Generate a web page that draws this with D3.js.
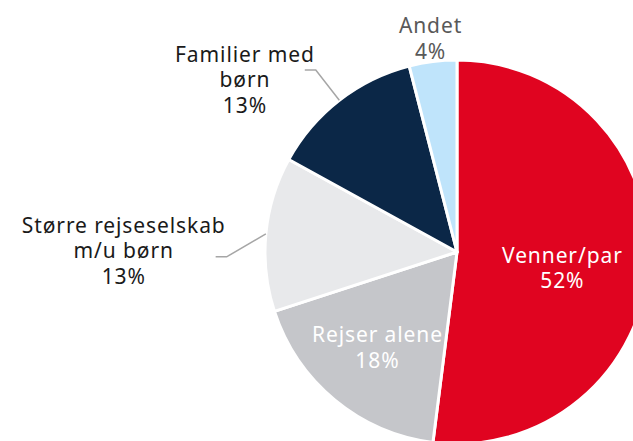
<!DOCTYPE html>
<html>
<head>
<meta charset="UTF-8">
<script src="https://cdn.jsdelivr.net/npm/d3@7/dist/d3.min.js"></script>
<style>
  body { margin: 0; background: #fff; }
  text { font-family: "Noto Sans", sans-serif; font-size: 21px; letter-spacing: 0.9px; }
  .leader { fill: none; stroke: #a6a6a6; stroke-width: 1.5; }
</style>
</head>
<body>
<script>
// data, clockwise from 12 o'clock
var categories = ["Venner/par", "Rejser alene", "Større rejseselskab m/u børn", "Familier med børn", "Andet"];
var values = [52, 18, 13, 13, 4];
var labelLines = [["Venner/par"], ["Rejser alene"], ["Større rejseselskab", "m/u børn"], ["Familier med", "børn"], ["Andet"]];
var colors = ["#e00420", "#c5c6ca", "#e8e9eb", "#0b2747", "#bfe4fb"];

// label placement: inside (radius factor) or outside with leader line
var labelLayout = [
  {inside: true, rf: 0.55, dy: 4, fill: "#fff"},
  {inside: true, rf: 0.65, dy: -6, fill: "#fff"},
  {inside: false, rf: 1.2, nudge: -6.6, dy: -24, leader: true, fill: "#1a1a1a"},
  {inside: false, rf: 1.2, nudge: 0, dy: -8, leader: true, fill: "#1a1a1a"},
  {inside: false, rf: 1.1, nudge: 0, dy: -9, leader: false, fill: "#595959"}
];

var width = 633, height = 441;
var cx = 457, cy = 252, radius = 192;
var lineH = 25.5;

var svg = d3.select("body").append("svg")
  .attr("width", width)
  .attr("height", height);

var g = svg.append("g").attr("transform", "translate(" + cx + "," + cy + ")");

var pie = d3.pie().sort(null).value(function(d) { return d; });
var arcs = pie(values);
var arc = d3.arc().innerRadius(0).outerRadius(radius);

g.selectAll("path.slice")
  .data(arcs)
  .enter().append("path")
  .attr("class", "slice")
  .attr("d", arc)
  .attr("fill", function(d, i) { return colors[i]; })
  .attr("stroke", "#fff")
  .attr("stroke-width", 3)
  .attr("stroke-linejoin", "round");

function polar(angle, r) {
  return [Math.sin(angle) * r, -Math.cos(angle) * r];
}

arcs.forEach(function(d, i) {
  var lay = labelLayout[i];
  var mid = (d.startAngle + d.endAngle) / 2;
  var lines = labelLines[i].concat([values[i] + "%"]);

  var text = g.append("text")
    .attr("text-anchor", "middle")
    .attr("fill", lay.fill);

  var x, y;
  if (lay.leader) {
    var a = mid + lay.nudge * Math.PI / 180;
    var p0 = polar(mid, radius);
    var p1 = polar(a, radius * lay.rf);
    var p2 = [p1[0] - 11, p1[1]];
    g.append("polyline")
      .attr("class", "leader")
      .attr("points", [p0, p1, p2].map(function(q) { return q.join(","); }).join(" "));
    x = p2[0];
    y = p2[1] + lay.dy;
  } else {
    var p = polar(mid, radius * lay.rf);
    x = p[0];
    y = p[1] + lay.dy;
  }

  lines.forEach(function(s, k) {
    text.append("tspan")
      .attr("x", x)
      .attr("y", y + k * lineH)
      .text(s);
  });

  // outside labels with a leader: box right edge sits just past the tail end
  if (lay.leader) {
    var w = d3.max(text.selectAll("tspan").nodes(), function(n) { return n.getComputedTextLength(); });
    text.selectAll("tspan").attr("x", x + 10 - w / 2);
  }
});
</script>
</body>
</html>
